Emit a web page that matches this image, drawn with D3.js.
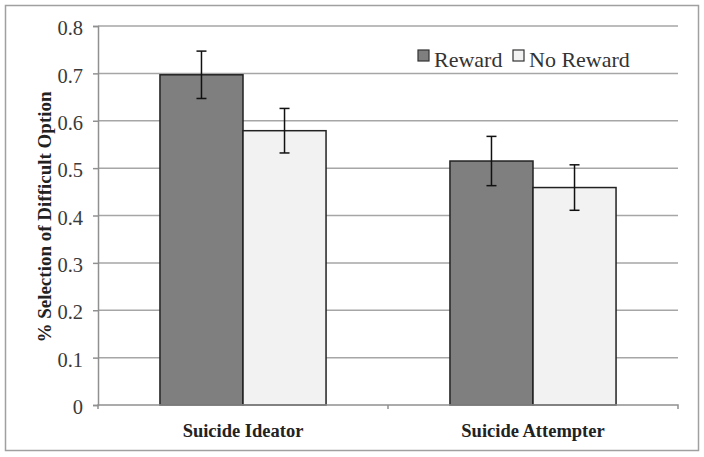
<!DOCTYPE html>
<html><head><meta charset="utf-8">
<script src="https://cdn.jsdelivr.net/npm/d3@7"></script>
<style>body{margin:0;background:#fff}svg{display:block}svg text{font-family:"Liberation Serif","DejaVu Serif","Times New Roman",serif}</style>
</head><body><svg id="c" width="704" height="457"></svg>
<script>
const categories = ["Suicide Ideator", "Suicide Attempter"];
const seriesNames = ["Reward", "No Reward"];
const rewardValues = [0.697, 0.515];
const noRewardValues = [0.579, 0.459];
const rewardErrors = [0.05, 0.052];
const noRewardErrors = [0.047, 0.048];
const yTicks = [0, 0.1, 0.2, 0.3, 0.4, 0.5, 0.6, 0.7, 0.8];
const colors = ["#7f7f7f", "#f2f2f2"];

const svg = d3.select("#c");
const m = {l: 98, r: 678, t: 26, b: 405};

svg.append("rect").attr("x", 5.5).attr("y", 5.5).attr("width", 693).attr("height", 445)
  .attr("fill", "#fff").attr("stroke", "#a0a0a0").attr("stroke-width", 1.5);

const x = d3.scaleBand().domain(categories).range([m.l, m.r]);
const xs = d3.scaleBand().domain(seriesNames).range([0, x.bandwidth()]).paddingOuter(0.746).paddingInner(0);
const y = d3.scaleLinear().domain([0, 0.8]).range([m.b, m.t]);

// gridlines
svg.append("g").selectAll("line").data(yTicks.filter(d => d > 0)).join("line")
  .attr("x1", m.l).attr("x2", m.r).attr("y1", d => y(d)).attr("y2", d => y(d))
  .attr("stroke", "#a6a6a6").attr("stroke-width", 1.5);

// y axis
const yAxis = svg.append("g").attr("transform", `translate(${m.l},0)`)
  .call(d3.axisLeft(y).tickValues(yTicks).tickSize(5).tickPadding(10).tickFormat(d => d === 0 ? "0" : d3.format(".1f")(d)));
yAxis.attr("font-family", null);
yAxis.select(".domain").attr("stroke", "#909090").attr("stroke-width", 1.5);
yAxis.selectAll(".tick line").attr("stroke", "#909090").attr("stroke-width", 1.5);
yAxis.selectAll("text").attr("font-size", 20.5).attr("dy", "0.42em").attr("fill", "#3a3a3a");

const data = categories.map((c, i) => [
  {cat: c, s: seriesNames[0], v: rewardValues[i], e: rewardErrors[i], col: colors[0]},
  {cat: c, s: seriesNames[1], v: noRewardValues[i], e: noRewardErrors[i], col: colors[1]}
]).flat();

svg.append("g").selectAll("rect").data(data).join("rect")
  .attr("x", d => x(d.cat) + xs(d.s)).attr("width", xs.bandwidth())
  .attr("y", d => y(d.v)).attr("height", d => y(0) - y(d.v))
  .attr("fill", d => d.col).attr("stroke", "#222").attr("stroke-width", 1.5);

// x axis
const xAxis = svg.append("g").attr("transform", `translate(0,${m.b})`)
  .call(d3.axisBottom(x).tickSize(0).tickPadding(19));
xAxis.attr("font-family", null);
xAxis.select(".domain").attr("stroke", "#909090").attr("stroke-width", 1.5).attr("d", `M${m.l},4V0H${m.r}V4`);
xAxis.selectAll("text").attr("font-size", 18.5).attr("font-weight", "bold").attr("fill", "#222");
xAxis.append("line").attr("x1", (m.l + m.r) / 2).attr("x2", (m.l + m.r) / 2).attr("y1", 0).attr("y2", 4)
  .attr("stroke", "#909090").attr("stroke-width", 1.5);

// error bars
const eb = svg.append("g").attr("stroke", "#111").attr("stroke-width", 1.5);
data.forEach(d => {
  const cx = x(d.cat) + xs(d.s) + xs.bandwidth() / 2;
  eb.append("line").attr("x1", cx).attr("x2", cx).attr("y1", y(d.v + d.e)).attr("y2", y(d.v - d.e));
  eb.append("line").attr("x1", cx - 5).attr("x2", cx + 5).attr("y1", y(d.v + d.e)).attr("y2", y(d.v + d.e));
  eb.append("line").attr("x1", cx - 5).attr("x2", cx + 5).attr("y1", y(d.v - d.e)).attr("y2", y(d.v - d.e));
});

// y title
svg.append("text").attr("transform", `translate(51,217) rotate(-90)`)
  .attr("text-anchor", "middle").attr("font-size", 19).attr("font-weight", "bold")
  .attr("fill", "#222").text("% Selection of Difficult Option");

// legend
const lg = svg.append("g");
const legendX = [418, 513];
seriesNames.forEach((s, i) => {
  lg.append("rect").attr("x", legendX[i]).attr("y", 50).attr("width", 11).attr("height", 11)
    .attr("fill", colors[i]).attr("stroke", "#333").attr("stroke-width", 1.2);
  lg.append("text").attr("x", legendX[i] + 16).attr("y", 67).attr("font-size", 22)
    .attr("fill", "#333").text(s);
});
</script></body></html>
